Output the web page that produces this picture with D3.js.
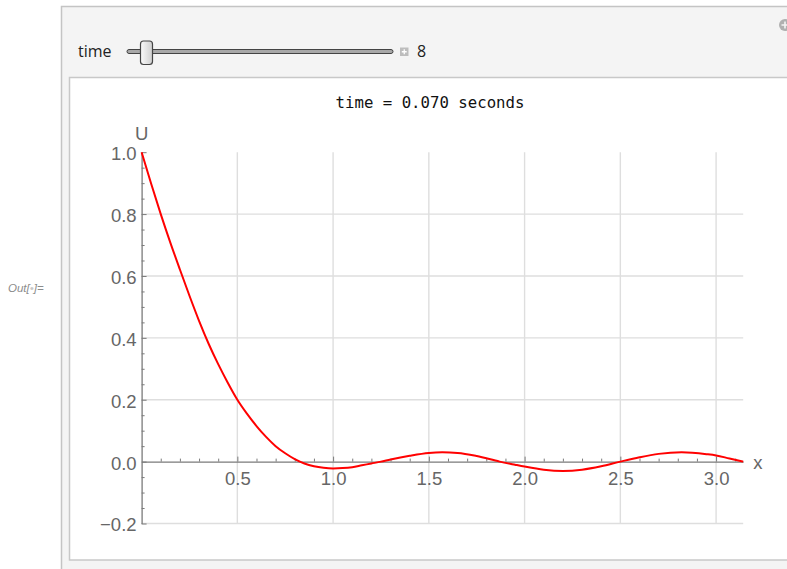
<!DOCTYPE html>
<html>
<head>
<meta charset="utf-8">
<script src="https://cdn.jsdelivr.net/npm/d3@7"></script>
<style>
  html, body { margin: 0; padding: 0; background: #ffffff; }
  svg { display: block; }
</style>
</head>
<body>
<svg id="chart" width="787" height="569"></svg>
<script>
// ---- data ----
const xs = [0, 0.05, 0.1, 0.15, 0.2, 0.25, 0.3, 0.35, 0.4, 0.45, 0.5, 0.55, 0.6, 0.65, 0.7, 0.75, 0.8, 0.85, 0.9, 0.95,
            1.0, 1.05, 1.1, 1.15, 1.2, 1.25, 1.3, 1.4, 1.5, 1.57, 1.65, 1.75, 1.87, 1.95, 2.0, 2.1, 2.2, 2.3, 2.4, 2.5,
            2.6, 2.7, 2.82, 2.95, 3.0, 3.07, 3.1416];
const us = [1.0, 0.898, 0.800, 0.708, 0.621, 0.536, 0.455, 0.381, 0.315, 0.255, 0.200, 0.155, 0.115, 0.080, 0.050, 0.027, 0.008, -0.006, -0.015, -0.020,
            -0.022, -0.021, -0.018, -0.012, -0.006, 0.000, 0.007, 0.019, 0.028, 0.030, 0.028, 0.018, 0.000, -0.010, -0.016, -0.026, -0.030, -0.026, -0.015, 0.000,
            0.014, 0.025, 0.030, 0.024, 0.020, 0.010, 0.0];
const xMajorTicks = [0.5, 1.0, 1.5, 2.0, 2.5, 3.0];
const xMinorTicks = [0.1,0.2,0.3,0.4,0.6,0.7,0.8,0.9,1.1,1.2,1.3,1.4,1.6,1.7,1.8,1.9,2.1,2.2,2.3,2.4,2.6,2.7,2.8,2.9,3.1];
const yMajorTicks = [-0.2, 0.0, 0.2, 0.4, 0.6, 0.8, 1.0];
const yMinorTicks = [-0.15,-0.1,-0.05,0.05,0.1,0.15,0.25,0.3,0.35,0.45,0.5,0.55,0.65,0.7,0.75,0.85,0.9,0.95];
const yGrid = [-0.2, 0.2, 0.4, 0.6, 0.8];
const xGrid = [0.5, 1.0, 1.5, 2.0, 2.5, 3.0];
const titleText = "time = 0.070 seconds";
const sliderLabel = "time";
const sliderValue = "8";

const svg = d3.select("#chart");

// ---- panel ----
svg.append("rect").attr("x", 61.5).attr("y", 6.5).attr("width", 740).attr("height", 580)
  .attr("fill", "#f4f4f4").attr("stroke", "#c4c4c4").attr("stroke-width", 1.5);
svg.append("rect").attr("x", 69.5).attr("y", 77.5).attr("width", 730).attr("height", 482.5)
  .attr("fill", "#ffffff").attr("stroke", "#c8c8c8").attr("stroke-width", 1.5);

// top-right icon
svg.append("circle").attr("cx", 785).attr("cy", 25).attr("r", 6).attr("fill", "#b0b0b0");
svg.append("path").attr("d", "M781.5,25H788.5M785,21.5V28.5").attr("stroke", "#f4f4f4").attr("stroke-width", 1.6);

// Out label
const outT = svg.append("text").attr("x", 8).attr("y", 292)
  .attr("font-family", "Liberation Sans, Arial, sans-serif").attr("font-style", "italic")
  .attr("font-size", 11.5).attr("fill", "#8c8c8c");
outT.append("tspan").text("Out[");
outT.append("tspan").attr("fill", "#c8c8c8").text("\u2022");
outT.append("tspan").text("]=");

// ---- slider ----
svg.append("text").attr("x", 78).attr("y", 56.5).attr("font-family", "Open Sans, sans-serif")
  .attr("font-size", 16).attr("fill", "#222").text(sliderLabel);
svg.append("rect").attr("x", 127).attr("y", 49.5).attr("width", 266).attr("height", 4).attr("rx", 2)
  .attr("fill", "#a8a8a8").attr("stroke", "#444").attr("stroke-width", 1);
const grad = svg.append("defs").append("linearGradient").attr("id", "thumbG")
  .attr("x1", 0).attr("x2", 1).attr("y1", 0).attr("y2", 0);
grad.append("stop").attr("offset", "0%").attr("stop-color", "#fafafa");
grad.append("stop").attr("offset", "100%").attr("stop-color", "#cfcfcf");
svg.append("rect").attr("x", 140.5).attr("y", 41).attr("width", 12).attr("height", 23.5).attr("rx", 3)
  .attr("fill", "url(#thumbG)").attr("stroke", "#444").attr("stroke-width", 1.2);
svg.append("rect").attr("x", 400).attr("y", 47.5).attr("width", 8.5).attr("height", 8.5)
  .attr("fill", "#bdbdbd");
svg.append("path").attr("d", "M401.8,51.75H406.7M404.25,49.3V54.2").attr("stroke", "#ffffff").attr("stroke-width", 1.3);
svg.append("text").attr("x", 417).attr("y", 57).attr("font-family", "Open Sans, sans-serif")
  .attr("font-size", 16).attr("fill", "#222").text(sliderValue);

// ---- title ----
svg.append("text").attr("x", 430).attr("y", 108).attr("text-anchor", "middle")
  .attr("font-family", "DejaVu Sans Mono, monospace").attr("font-size", 15.7).attr("fill", "#111")
  .text(titleText);

// ---- scales ----
const x = d3.scaleLinear().domain([0, Math.PI]).range([141.6, 743.2]);
const y = d3.scaleLinear().domain([-0.2, 1.0]).range([523.5, 152.2]);

// ---- grid ----
const g = svg.append("g");
g.selectAll("line.vg").data(xGrid).join("line")
  .attr("x1", d => x(d)).attr("x2", d => x(d)).attr("y1", y(-0.2)).attr("y2", y(1.0))
  .attr("stroke", "#dedede").attr("stroke-width", 1.4);
g.selectAll("line.hg").data(yGrid).join("line")
  .attr("x1", x(0)).attr("x2", x(Math.PI)).attr("y1", d => y(d)).attr("y2", d => y(d))
  .attr("stroke", "#dedede").attr("stroke-width", 1.4);

const fontAxis = "Liberation Sans, Arial, sans-serif";
const axisColor = "#7a7a7a";
function styleAxis(sel) {
  sel.select(".domain").attr("stroke", axisColor).attr("stroke-width", 1.3);
  sel.selectAll(".tick line").attr("stroke", axisColor).attr("stroke-width", 1);
  sel.selectAll(".tick text").attr("fill", "#666").attr("font-family", fontAxis).attr("font-size", 18.5);
}

// minor ticks
const yMin = svg.append("g").attr("transform", `translate(${x(0)},0)`)
  .call(d3.axisLeft(y).tickValues(yMinorTicks).tickSize(-3).tickSizeOuter(0).tickFormat(""));
yMin.select(".domain").remove();
yMin.selectAll(".tick line").attr("stroke", axisColor);
const xMin = svg.append("g").attr("transform", `translate(0,${y(0)})`)
  .call(d3.axisBottom(x).tickValues(xMinorTicks).tickSize(-3).tickSizeOuter(0).tickFormat(""));
xMin.select(".domain").remove();
xMin.selectAll(".tick line").attr("stroke", axisColor);

// major axes
const yAx = svg.append("g").attr("transform", `translate(${x(0)},0)`)
  .call(d3.axisLeft(y).tickValues(yMajorTicks).tickSize(-5).tickSizeOuter(0).tickPadding(5).tickFormat(d3.format(".1f")));
styleAxis(yAx);
yAx.selectAll(".tick text").attr("dy", "0.4em");
const xAx = svg.append("g").attr("transform", `translate(0,${y(0)})`)
  .call(d3.axisBottom(x).tickValues(xMajorTicks).tickSize(-5).tickSizeOuter(0).tickPadding(10.3).tickFormat(d3.format(".1f")));
styleAxis(xAx);

// axis labels
svg.append("text").attr("x", x(0)).attr("y", 140).attr("text-anchor", "middle")
  .attr("font-family", fontAxis).attr("font-size", 18.5).attr("fill", "#666").text("U");
svg.append("text").attr("x", x(Math.PI) + 10).attr("y", y(0) + 7.5)
  .attr("font-family", fontAxis).attr("font-size", 18.5).attr("fill", "#666").text("x");

// ---- curve ----
const pts = xs.map((d, i) => [d, us[i]]);
svg.append("path").datum(pts)
  .attr("fill", "none").attr("stroke", "#ff0000").attr("stroke-width", 2)
  .attr("d", d3.line().x(d => x(d[0])).y(d => y(d[1])).curve(d3.curveMonotoneX));
</script>
</body>
</html>
